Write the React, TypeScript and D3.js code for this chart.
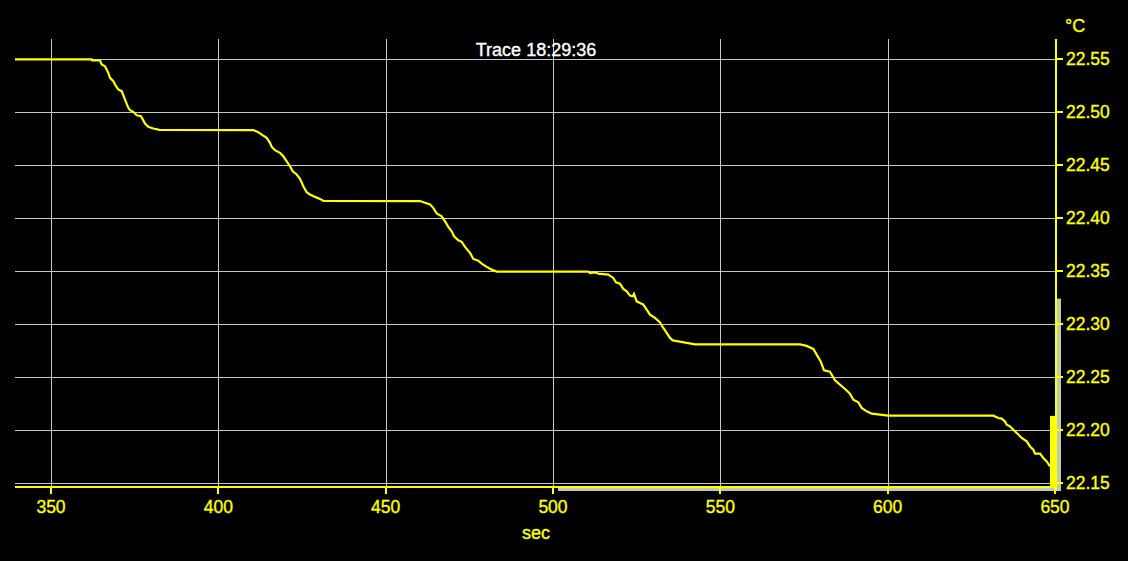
import React from "react";
import * as d3 from "d3";

const timeSec = [339.24, 362.16, 362.25, 364.64, 365.15, 366.13, 367.12, 367.63, 368.62, 369.42, 370.11, 371.13, 372.11, 373.1, 373.61, 374.59, 375.61, 376.89, 378.09, 379.07, 380.57, 382.36, 410.45, 411.94, 412.96, 414.45, 415.44, 415.95, 416.93, 418.43, 419.41, 420.43, 421.41, 422.22, 423.41, 424.4, 425.39, 426.4, 427.39, 428.88, 430.38, 431.36, 460.26, 461.75, 463.25, 464.23, 465.25, 466.74, 467.73, 468.71, 469.73, 470.42, 471.7, 472.72, 473.7, 475.2, 476.19, 477.68, 478.69, 480.19, 481.68, 483.18, 510.55, 511.05, 512.55, 513.53, 516.52, 518.01, 518.82, 520.01, 521.0, 522.02, 523.0, 523.81, 524.2, 525.01, 525.99, 526.98, 528.0, 528.98, 530.48, 531.97, 532.96, 533.97, 534.96, 535.77, 537.44, 539.95, 542.43, 573.8, 575.8, 577.78, 578.79, 579.99, 580.97, 582.76, 584.26, 585.75, 587.25, 588.74, 589.73, 591.22, 592.24, 593.73, 595.23, 597.71, 600.19, 631.56, 633.06, 634.07, 635.06, 635.57, 636.56, 637.55, 638.56, 640.06, 641.55, 642.54, 643.53, 644.04, 645.53, 646.52, 647.53, 648.51];
const tempC = [22.5491, 22.5491, 22.5481, 22.5481, 22.5443, 22.5427, 22.5365, 22.5318, 22.5286, 22.5239, 22.5208, 22.5192, 22.5113, 22.5035, 22.5012, 22.4997, 22.4965, 22.4956, 22.4887, 22.4856, 22.484, 22.4827, 22.4825, 22.4805, 22.4783, 22.4752, 22.4705, 22.4667, 22.4635, 22.461, 22.4578, 22.4531, 22.4484, 22.4437, 22.4406, 22.4365, 22.4295, 22.4239, 22.4217, 22.4195, 22.4176, 22.4158, 22.4156, 22.4139, 22.4123, 22.4092, 22.4038, 22.4012, 22.3965, 22.3912, 22.3871, 22.3824, 22.3786, 22.3771, 22.3724, 22.3667, 22.361, 22.3594, 22.3566, 22.3535, 22.3509, 22.3491, 22.3491, 22.3476, 22.3484, 22.3472, 22.3462, 22.3431, 22.339, 22.3377, 22.3327, 22.3305, 22.3264, 22.3258, 22.328, 22.321, 22.3195, 22.3179, 22.3132, 22.3085, 22.3054, 22.3012, 22.2959, 22.2912, 22.2865, 22.2842, 22.2833, 22.2818, 22.2805, 22.2805, 22.279, 22.2761, 22.2708, 22.2644, 22.2559, 22.2547, 22.2465, 22.2425, 22.2384, 22.234, 22.2283, 22.2258, 22.2205, 22.2173, 22.2151, 22.2142, 22.2132, 22.2132, 22.211, 22.2104, 22.2078, 22.2047, 22.2031, 22.2, 22.1969, 22.1922, 22.189, 22.1842, 22.1811, 22.1774, 22.1774, 22.1733, 22.1701, 22.1654];

const xTicks = [350, 400, 450, 500, 550, 600, 650];
const yTicks = [22.15, 22.2, 22.25, 22.3, 22.35, 22.4, 22.45, 22.5, 22.55];

// level bar (current value) and scroll indicators
const levelBarX = [648.5, 650.3];
const levelBarValue = 22.213;
const scrollX = [501.5, 650];
const scrollYTop = 22.3236;

const titleText = "Trace 18:29:36";
const xLabel = "sec";
const yUnit = "°C";

const W = 1128;
const H = 561;
const FONT = "'Liberation Sans', Arial, sans-serif";
const YELLOW = "#ffff00";
const GRID = "#c8c8c8";
const SCROLL = "#bccbb4";

export default function App() {
  const x = d3.scaleLinear().domain([339.24, 650]).range([15, 1055]);
  const y = d3.scaleLinear().domain([22.15, 22.55]).range([482.7, 58.5]);
  const top = 39;
  const axisY = 487;
  const axisX = 1056;

  const pts: [number, number][] = timeSec.map((t, i) => [t, tempC[i]]);
  const line = d3
    .line<[number, number]>()
    .x((d) => x(d[0]))
    .y((d) => y(d[1]));

  const txt = (color: string) => ({ fill: color, stroke: color, strokeWidth: 0.35, fontFamily: FONT });

  return (
    <svg
      width={W}
      height={H}
      style={{ position: "absolute", left: 0, top: 0, background: "#000" }}
    >
      <rect x={0} y={0} width={W} height={H} fill="#000" />
      {/* grid */}
      <g stroke={GRID} strokeWidth={1} shapeRendering="crispEdges">
        {xTicks.slice(0, -1).map((t) => (
          <line key={"gx" + t} x1={Math.round(x(t)) + 0.5} x2={Math.round(x(t)) + 0.5} y1={top} y2={axisY} />
        ))}
        {yTicks.map((t) => (
          <line key={"gy" + t} x1={15} x2={1055} y1={Math.round(y(t)) + 0.5} y2={Math.round(y(t)) + 0.5} />
        ))}
      </g>
      {/* title */}
      <text x={536} y={56} {...txt("#fff")} fontSize={18} textAnchor="middle">
        {titleText}
      </text>
      {/* scroll indicators */}
      <rect x={x(scrollX[0])} y={488} width={x(scrollX[1]) - x(scrollX[0])} height={3} fill={SCROLL} />
      <rect x={1057} y={y(scrollYTop)} width={4} height={491 - y(scrollYTop)} fill={SCROLL} />
      {/* trace */}
      <path d={line(pts) || ""} fill="none" stroke={YELLOW} strokeWidth={2.2} strokeLinejoin="miter" />
      {/* level bar */}
      <rect
        x={x(levelBarX[0])}
        y={y(levelBarValue)}
        width={x(levelBarX[1]) - x(levelBarX[0])}
        height={axisY - y(levelBarValue)}
        fill={YELLOW}
      />
      {/* x axis */}
      <g shapeRendering="crispEdges">
        <line x1={15} x2={1055} y1={axisY} y2={axisY} stroke={YELLOW} strokeWidth={2} />
        {xTicks.map((t) => (
          <line key={"xt" + t} x1={Math.round(x(t))} x2={Math.round(x(t))} y1={axisY} y2={494} stroke={YELLOW} strokeWidth={2} />
        ))}
      </g>
      {xTicks.map((t) => (
        <text key={"xl" + t} x={x(t)} y={513} {...txt(YELLOW)} fontSize={17.5} textAnchor="middle">
          {t}
        </text>
      ))}
      <text x={536} y={539} {...txt(YELLOW)} fontSize={18} textAnchor="middle">
        {xLabel}
      </text>
      {/* y axis */}
      <g shapeRendering="crispEdges">
        <line x1={axisX} x2={axisX} y1={top} y2={491} stroke={YELLOW} strokeWidth={2} />
        {yTicks.map((t) => (
          <line key={"yt" + t} x1={axisX} x2={1063} y1={Math.round(y(t))} y2={Math.round(y(t))} stroke={YELLOW} strokeWidth={2} />
        ))}
      </g>
      {yTicks.map((t) => (
        <text key={"yl" + t} x={1066} y={y(t) + 6.5} {...txt(YELLOW)} fontSize={17.5}>
          {t.toFixed(2)}
        </text>
      ))}
      <text x={1065} y={32} {...txt(YELLOW)} fontSize={18}>
        {yUnit}
      </text>
    </svg>
  );
}
